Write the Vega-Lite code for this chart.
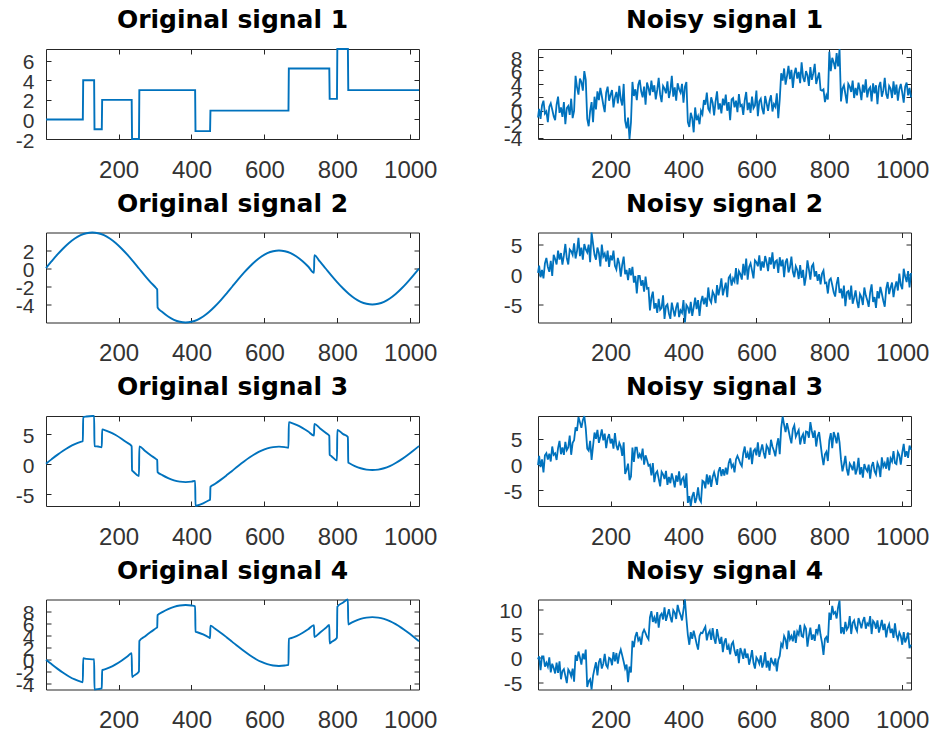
{
"$schema":"https://vega.github.io/schema/vega-lite/v6.json",
"background":"white",
"padding":{"left":5,"top":7,"right":0,"bottom":6},
"datasets":{
"o1":[{"x":1,"y":0},{"x":102,"y":0},{"x":103,"y":4},{"x":133,"y":4},{"x":134,"y":-1},{"x":154,"y":-1},{"x":155,"y":2},{"x":236,"y":2},{"x":237,"y":-2},{"x":256,"y":-2},{"x":257,"y":3},{"x":410,"y":3},{"x":411,"y":-1.2},{"x":451,"y":-1.2},{"x":452,"y":0.9},{"x":666,"y":0.9},{"x":667,"y":5.2},{"x":778,"y":5.2},{"x":779,"y":2.1},{"x":799,"y":2.1},{"x":800,"y":7.2},{"x":829,"y":7.2},{"x":830,"y":3},{"x":1024,"y":3}],
"o2":[{"x":1,"y":0.05},{"x":16,"y":0.78},{"x":32,"y":1.53},{"x":48,"y":2.22},{"x":64,"y":2.83},{"x":80,"y":3.33},{"x":96,"y":3.7},{"x":112,"y":3.92},{"x":128,"y":4.0},{"x":144,"y":3.92},{"x":160,"y":3.7},{"x":176,"y":3.33},{"x":192,"y":2.83},{"x":208,"y":2.22},{"x":224,"y":1.53},{"x":240,"y":0.78},{"x":256,"y":0},{"x":272,"y":-0.78},{"x":288,"y":-1.53},{"x":304,"y":-2.22},{"x":306,"y":-2.32},{"x":307,"y":-4.34},{"x":320,"y":-4.83},{"x":336,"y":-5.33},{"x":352,"y":-5.7},{"x":368,"y":-5.92},{"x":384,"y":-6},{"x":400,"y":-5.92},{"x":416,"y":-5.7},{"x":432,"y":-5.33},{"x":448,"y":-4.83},{"x":464,"y":-4.22},{"x":480,"y":-3.53},{"x":496,"y":-2.78},{"x":512,"y":-2},{"x":528,"y":-1.22},{"x":544,"y":-0.47},{"x":560,"y":0.22},{"x":576,"y":0.83},{"x":592,"y":1.33},{"x":608,"y":1.7},{"x":624,"y":1.92},{"x":640,"y":2},{"x":656,"y":1.92},{"x":672,"y":1.7},{"x":688,"y":1.33},{"x":704,"y":0.83},{"x":720,"y":0.22},{"x":736,"y":-0.47},{"x":737,"y":1.49},{"x":752,"y":0.78},{"x":768,"y":0},{"x":784,"y":-0.78},{"x":800,"y":-1.53},{"x":816,"y":-2.22},{"x":832,"y":-2.83},{"x":848,"y":-3.33},{"x":864,"y":-3.7},{"x":880,"y":-3.92},{"x":896,"y":-4},{"x":912,"y":-3.92},{"x":928,"y":-3.7},{"x":944,"y":-3.33},{"x":960,"y":-2.83},{"x":976,"y":-2.22},{"x":992,"y":-1.53},{"x":1008,"y":-0.78},{"x":1024,"y":0}],
"o3":[{"x":1,"y":0.05},{"x":16,"y":0.78},{"x":32,"y":1.53},{"x":48,"y":2.22},{"x":64,"y":2.83},{"x":80,"y":3.33},{"x":96,"y":3.7},{"x":102,"y":3.8},{"x":103,"y":7.81},{"x":112,"y":7.92},{"x":128,"y":8.0},{"x":133,"y":7.99},{"x":134,"y":2.99},{"x":144,"y":2.92},{"x":154,"y":2.8},{"x":155,"y":5.78},{"x":160,"y":5.7},{"x":176,"y":5.33},{"x":192,"y":4.83},{"x":208,"y":4.22},{"x":224,"y":3.53},{"x":236,"y":2.97},{"x":237,"y":-1.08},{"x":240,"y":-1.22},{"x":256,"y":-2},{"x":257,"y":2.95},{"x":272,"y":2.22},{"x":288,"y":1.47},{"x":304,"y":0.78},{"x":306,"y":0.68},{"x":307,"y":-1.34},{"x":320,"y":-1.83},{"x":336,"y":-2.33},{"x":352,"y":-2.7},{"x":368,"y":-2.92},{"x":384,"y":-3},{"x":400,"y":-2.92},{"x":410,"y":-2.8},{"x":411,"y":-6.98},{"x":416,"y":-6.9},{"x":432,"y":-6.53},{"x":448,"y":-6.03},{"x":451,"y":-5.92},{"x":452,"y":-3.79},{"x":464,"y":-3.32},{"x":480,"y":-2.63},{"x":496,"y":-1.88},{"x":512,"y":-1.1},{"x":528,"y":-0.32},{"x":544,"y":0.43},{"x":560,"y":1.12},{"x":576,"y":1.73},{"x":592,"y":2.23},{"x":608,"y":2.6},{"x":624,"y":2.82},{"x":640,"y":2.9},{"x":656,"y":2.82},{"x":666,"y":2.7},{"x":667,"y":6.98},{"x":672,"y":6.9},{"x":688,"y":6.53},{"x":704,"y":6.03},{"x":720,"y":5.42},{"x":736,"y":4.73},{"x":737,"y":6.69},{"x":752,"y":5.98},{"x":768,"y":5.2},{"x":778,"y":4.71},{"x":779,"y":1.56},{"x":784,"y":1.32},{"x":799,"y":0.61},{"x":800,"y":5.67},{"x":816,"y":4.98},{"x":829,"y":4.48},{"x":830,"y":0.24},{"x":832,"y":0.17},{"x":848,"y":-0.33},{"x":864,"y":-0.7},{"x":880,"y":-0.92},{"x":896,"y":-1},{"x":912,"y":-0.92},{"x":928,"y":-0.7},{"x":944,"y":-0.33},{"x":960,"y":0.17},{"x":976,"y":0.78},{"x":992,"y":1.47},{"x":1008,"y":2.22},{"x":1024,"y":3}],
"o4":[{"x":1,"y":-0.05},{"x":16,"y":-0.78},{"x":32,"y":-1.53},{"x":48,"y":-2.22},{"x":64,"y":-2.83},{"x":80,"y":-3.33},{"x":96,"y":-3.7},{"x":102,"y":-3.8},{"x":103,"y":0.19},{"x":112,"y":0.08},{"x":128,"y":0},{"x":133,"y":0.01},{"x":134,"y":-4.99},{"x":144,"y":-4.92},{"x":154,"y":-4.8},{"x":155,"y":-1.78},{"x":160,"y":-1.7},{"x":176,"y":-1.33},{"x":192,"y":-0.83},{"x":208,"y":-0.22},{"x":224,"y":0.47},{"x":236,"y":1.03},{"x":237,"y":-2.92},{"x":240,"y":-2.78},{"x":256,"y":-2},{"x":257,"y":3.05},{"x":272,"y":3.78},{"x":288,"y":4.53},{"x":304,"y":5.22},{"x":306,"y":5.32},{"x":307,"y":7.34},{"x":320,"y":7.83},{"x":336,"y":8.33},{"x":352,"y":8.7},{"x":368,"y":8.92},{"x":384,"y":9},{"x":400,"y":8.92},{"x":410,"y":8.8},{"x":411,"y":4.58},{"x":416,"y":4.5},{"x":432,"y":4.13},{"x":448,"y":3.63},{"x":451,"y":3.52},{"x":452,"y":5.59},{"x":464,"y":5.12},{"x":480,"y":4.43},{"x":496,"y":3.68},{"x":512,"y":2.9},{"x":528,"y":2.12},{"x":544,"y":1.37},{"x":560,"y":0.68},{"x":576,"y":0.07},{"x":592,"y":-0.43},{"x":608,"y":-0.8},{"x":624,"y":-1.02},{"x":640,"y":-1.1},{"x":656,"y":-1.02},{"x":666,"y":-0.9},{"x":667,"y":3.42},{"x":672,"y":3.5},{"x":688,"y":3.87},{"x":704,"y":4.37},{"x":720,"y":4.98},{"x":736,"y":5.67},{"x":737,"y":3.71},{"x":752,"y":4.42},{"x":768,"y":5.2},{"x":778,"y":5.69},{"x":779,"y":2.64},{"x":784,"y":2.88},{"x":799,"y":3.59},{"x":800,"y":8.73},{"x":816,"y":9.42},{"x":829,"y":9.92},{"x":830,"y":5.76},{"x":832,"y":5.83},{"x":848,"y":6.33},{"x":864,"y":6.7},{"x":880,"y":6.92},{"x":896,"y":7},{"x":912,"y":6.92},{"x":928,"y":6.7},{"x":944,"y":6.33},{"x":960,"y":5.83},{"x":976,"y":5.22},{"x":992,"y":4.53},{"x":1008,"y":3.78},{"x":1024,"y":3}],
"nz":[
{"x":1,"a":-1.0,"b":0.3,"c":-0.1,"d":-0.3},
{"x":4,"a":0.3,"b":1.5,"c":1.7,"d":0.3},
{"x":8,"a":-1.2,"b":-0.4,"c":-0.5,"d":-2.5},
{"x":12,"a":0.8,"b":0.8,"c":1.0,"d":0.3},
{"x":16,"a":1.5,"b":-0.6,"c":-1.5,"d":0.3},
{"x":20,"a":-0.4,"b":1.9,"c":1.8,"d":-1.8},
{"x":24,"a":-0.1,"b":2.8,"c":2.2,"d":-1.0},
{"x":28,"a":-1.7,"b":1.3,"c":1.0,"d":-1.8},
{"x":32,"a":0.6,"b":0.5,"c":2.1,"d":0.1},
{"x":36,"a":1.1,"b":2.3,"c":0.6,"d":-3.0},
{"x":40,"a":0.2,"b":-0.2,"c":3.5,"d":-1.2},
{"x":44,"a":-0.8,"b":3.3,"c":1.9,"d":-2.1},
{"x":48,"a":-1.4,"b":2.6,"c":2.2,"d":-3.2},
{"x":52,"a":0.9,"b":1.7,"c":0.9,"d":-1.0},
{"x":56,"a":2.1,"b":4.0,"c":3.2,"d":-3.1},
{"x":60,"a":-0.3,"b":2.5,"c":4.6,"d":-0.7},
{"x":64,"a":0.5,"b":3.6,"c":2.0,"d":-4.4},
{"x":68,"a":-0.9,"b":1.7,"c":3.3,"d":-2.7},
{"x":72,"a":1.3,"b":3.2,"c":1.9,"d":-2.3},
{"x":76,"a":-2.0,"b":5.1,"c":4.4,"d":-3.7},
{"x":80,"a":0.4,"b":2.7,"c":2.8,"d":-5.2},
{"x":84,"a":0.7,"b":1.7,"c":3.3,"d":-2.4},
{"x":88,"a":-0.6,"b":4.2,"c":5.6,"d":-2.9},
{"x":92,"a":1.8,"b":3.9,"c":1.9,"d":-3.8},
{"x":96,"a":-1.1,"b":3.3,"c":4.2,"d":-2.2},
{"x":100,"a":0.0,"b":5.2,"c":4.7,"d":-4.9},
{"x":104,"a":5.2,"b":2.7,"c":7.2,"d":0.6},
{"x":108,"a":3.5,"b":3.9,"c":6.5,"d":-0.6},
{"x":112,"a":2.4,"b":6.1,"c":9.2,"d":1.3},
{"x":116,"a":4.8,"b":3.1,"c":8.2,"d":0.1},
{"x":120,"a":4.3,"b":4.5,"c":7.1,"d":-1.4},
{"x":124,"a":3.0,"b":2.5,"c":8.6,"d":0.9},
{"x":128,"a":5.9,"b":5.1,"c":9.4,"d":-0.3},
{"x":132,"a":4.6,"b":4.2,"c":7.0,"d":1.7},
{"x":136,"a":-1.2,"b":3.7,"c":3.1,"d":-6.0},
{"x":140,"a":-2.3,"b":5.0,"c":2.7,"d":-4.8},
{"x":144,"a":0.0,"b":2.1,"c":4.6,"d":-4.4},
{"x":148,"a":1.3,"b":7.0,"c":0.9,"d":-6.5},
{"x":152,"a":-1.7,"b":5.1,"c":3.6,"d":-3.7},
{"x":156,"a":2.1,"b":3.3,"c":6.2,"d":-2.2},
{"x":160,"a":0.2,"b":2.5,"c":5.0,"d":-0.9},
{"x":164,"a":2.9,"b":4.5,"c":6.7,"d":-3.6},
{"x":168,"a":1.6,"b":3.6,"c":4.2,"d":-0.9},
{"x":172,"a":3.4,"b":1.4,"c":5.4,"d":-0.1},
{"x":176,"a":2.2,"b":5.0,"c":6.8,"d":-2.2},
{"x":180,"a":0.9,"b":3.0,"c":4.7,"d":-1.2},
{"x":184,"a":-0.2,"b":3.5,"c":6.0,"d":0.8},
{"x":188,"a":2.7,"b":2.2,"c":3.2,"d":-1.5},
{"x":192,"a":3.6,"b":4.0,"c":5.1,"d":-2.0},
{"x":196,"a":1.5,"b":1.3,"c":5.9,"d":0.0},
{"x":200,"a":2.4,"b":3.2,"c":4.1,"d":-0.2},
{"x":204,"a":3.1,"b":2.4,"c":5.0,"d":-1.5},
{"x":208,"a":0.5,"b":4.0,"c":3.1,"d":1.2},
{"x":212,"a":2.0,"b":1.5,"c":6.1,"d":-0.7},
{"x":216,"a":2.8,"b":0.9,"c":3.7,"d":1.0},
{"x":220,"a":1.1,"b":2.8,"c":2.8,"d":-1.2},
{"x":224,"a":3.7,"b":1.8,"c":4.2,"d":0.7},
{"x":228,"a":1.7,"b":-0.3,"c":3.5,"d":1.7},
{"x":232,"a":0.8,"b":1.7,"c":1.7,"d":0.5},
{"x":236,"a":4.0,"b":3.0,"c":4.3,"d":-0.8},
{"x":240,"a":-1.5,"b":0.1,"c":-1.8,"d":-2.2},
{"x":244,"a":-2.6,"b":0.8,"c":-1.0,"d":-1.4},
{"x":248,"a":-1.0,"b":-0.9,"c":0.2,"d":-5.0},
{"x":252,"a":-4.2,"b":1.1,"c":-3.0,"d":-1.8},
{"x":256,"a":-1.7,"b":-0.1,"c":-2.3,"d":-3.0},
{"x":260,"a":4.3,"b":1.3,"c":3.3,"d":3.5},
{"x":264,"a":2.2,"b":-1.3,"c":0.5,"d":2.2},
{"x":268,"a":3.2,"b":-0.2,"c":3.3,"d":4.4},
{"x":272,"a":1.6,"b":-3.1,"c":3.3,"d":5.3},
{"x":276,"a":3.9,"b":-0.2,"c":1.2,"d":3.6},
{"x":280,"a":4.6,"b":-0.2,"c":2.0,"d":4.1},
{"x":284,"a":2.9,"b":-1.8,"c":1.3,"d":2.7},
{"x":288,"a":2.0,"b":-0.9,"c":3.1,"d":5.1},
{"x":292,"a":3.6,"b":-2.8,"c":0.0,"d":5.8},
{"x":296,"a":0.9,"b":-0.3,"c":1.8,"d":5.1},
{"x":300,"a":4.2,"b":-2.3,"c":0.9,"d":4.3},
{"x":304,"a":3.4,"b":-2.2,"c":-0.2,"d":3.8},
{"x":308,"a":2.3,"b":-5.9,"c":0.0,"d":8.3},
{"x":312,"a":4.5,"b":-3.8,"c":-2.1,"d":9.6},
{"x":316,"a":2.8,"b":-2.8,"c":0.3,"d":7.4},
{"x":320,"a":3.8,"b":-5.6,"c":-3.4,"d":8.3},
{"x":324,"a":1.7,"b":-4.7,"c":-1.7,"d":7.1},
{"x":328,"a":3.1,"b":-6.3,"c":-1.3,"d":9.4},
{"x":332,"a":4.9,"b":-4.0,"c":-2.7,"d":6.2},
{"x":336,"a":2.4,"b":-5.8,"c":-4.2,"d":8.7},
{"x":340,"a":1.3,"b":-5.5,"c":-1.4,"d":9.1},
{"x":344,"a":3.7,"b":-3.4,"c":-1.9,"d":7.9},
{"x":348,"a":3.3,"b":-7.3,"c":-2.8,"d":10.4},
{"x":352,"a":2.6,"b":-5.2,"c":-1.2,"d":7.6},
{"x":356,"a":4.4,"b":-4.9,"c":-3.9,"d":8.8},
{"x":360,"a":1.9,"b":-6.4,"c":-2.4,"d":10.0},
{"x":364,"a":3.0,"b":-7.3,"c":-3.6,"d":8.4},
{"x":368,"a":5.2,"b":-4.6,"c":-1.7,"d":7.3},
{"x":372,"a":2.1,"b":-5.8,"c":-2.9,"d":9.8},
{"x":376,"a":3.5,"b":-6.9,"c":-4.4,"d":9.3},
{"x":380,"a":1.5,"b":-5.4,"c":-2.1,"d":8.0},
{"x":384,"a":4.1,"b":-4.6,"c":-3.3,"d":10.9},
{"x":388,"a":3.2,"b":-7.0,"c":-1.3,"d":9.6},
{"x":392,"a":2.7,"b":-5.9,"c":-4.0,"d":8.8},
{"x":396,"a":4.0,"b":-6.3,"c":-2.8,"d":7.7},
{"x":400,"a":1.2,"b":-4.2,"c":-2.4,"d":9.9},
{"x":404,"a":3.6,"b":-7.9,"c":-4.5,"d":12.0},
{"x":408,"a":4.3,"b":-5.0,"c":-1.7,"d":8.1},
{"x":412,"a":-1.7,"b":-5.4,"c":-7.4,"d":4.7},
{"x":416,"a":-2.4,"b":-6.4,"c":-6.1,"d":2.7},
{"x":420,"a":-0.3,"b":-4.5,"c":-8.0,"d":5.3},
{"x":424,"a":-1.1,"b":-6.8,"c":-6.1,"d":3.9},
{"x":428,"a":-3.2,"b":-5.4,"c":-5.3,"d":5.6},
{"x":432,"a":0.5,"b":-3.8,"c":-7.4,"d":4.3},
{"x":436,"a":-1.4,"b":-5.7,"c":-6.4,"d":2.9},
{"x":440,"a":-0.8,"b":-4.2,"c":-4.4,"d":1.7},
{"x":444,"a":-2.0,"b":-6.8,"c":-6.7,"d":4.5},
{"x":448,"a":0.0,"b":-4.5,"c":-7.2,"d":5.2},
{"x":452,"a":-0.5,"b":-3.5,"c":-3.1,"d":5.1},
{"x":456,"a":1.6,"b":-4.9,"c":-3.3,"d":5.8},
{"x":460,"a":0.9,"b":-3.8,"c":-4.6,"d":6.4},
{"x":464,"a":2.7,"b":-5.3,"c":-1.9,"d":3.6},
{"x":468,"a":0.3,"b":-2.1,"c":-3.8,"d":5.0},
{"x":472,"a":-0.1,"b":-4.1,"c":-2.1,"d":5.6},
{"x":476,"a":2.0,"b":-4.6,"c":-4.3,"d":3.7},
{"x":480,"a":1.2,"b":-2.8,"c":-2.4,"d":6.1},
{"x":484,"a":-0.7,"b":-3.3,"c":-1.5,"d":4.0},
{"x":488,"a":1.4,"b":-4.7,"c":-2.6,"d":2.9},
{"x":492,"a":2.9,"b":-1.7,"c":-3.9,"d":5.9},
{"x":496,"a":0.2,"b":-3.4,"c":-1.3,"d":4.2},
{"x":500,"a":1.1,"b":-2.2,"c":-0.5,"d":2.9},
{"x":504,"a":-0.4,"b":-0.6,"c":-2.2,"d":4.3},
{"x":508,"a":1.8,"b":-3.4,"c":-0.9,"d":1.2},
{"x":512,"a":0.8,"b":-2.3,"c":-2.1,"d":3.2},
{"x":516,"a":2.4,"b":-1.3,"c":-0.6,"d":4.0},
{"x":520,"a":0.0,"b":-3.7,"c":-1.9,"d":1.7},
{"x":524,"a":1.3,"b":-0.5,"c":0.3,"d":2.5},
{"x":528,"a":-1.4,"b":-0.1,"c":1.2,"d":0.7},
{"x":532,"a":1.7,"b":-1.8,"c":-0.5,"d":2.8},
{"x":536,"a":1.9,"b":-0.6,"c":0.0,"d":3.3},
{"x":540,"a":0.5,"b":-1.1,"c":-1.5,"d":1.5},
{"x":544,"a":1.5,"b":1.1,"c":1.0,"d":0.4},
{"x":548,"a":-0.2,"b":-1.6,"c":1.7,"d":1.8},
{"x":552,"a":2.5,"b":0.6,"c":1.0,"d":-1.1},
{"x":556,"a":0.7,"b":0.1,"c":0.2,"d":2.0},
{"x":560,"a":0.9,"b":-0.8,"c":-0.3,"d":1.1},
{"x":564,"a":-0.6,"b":1.8,"c":2.2,"d":-0.2},
{"x":568,"a":1.6,"b":-0.1,"c":3.5,"d":1.9},
{"x":572,"a":2.8,"b":2.7,"c":1.3,"d":0.0},
{"x":576,"a":0.1,"b":-0.8,"c":2.2,"d":0.9},
{"x":580,"a":1.2,"b":1.3,"c":1.0,"d":-1.4},
{"x":584,"a":-0.3,"b":1.9,"c":3.3,"d":-0.1},
{"x":588,"a":2.1,"b":0.7,"c":0.1,"d":1.6},
{"x":592,"a":0.4,"b":-0.6,"c":2.6,"d":-1.0},
{"x":596,"a":0.8,"b":2.4,"c":3.0,"d":-2.2},
{"x":600,"a":3.0,"b":2.1,"c":1.8,"d":0.1},
{"x":604,"a":-0.8,"b":1.4,"c":4.3,"d":-0.4},
{"x":608,"a":1.4,"b":3.2,"c":1.5,"d":-1.2},
{"x":612,"a":1.8,"b":0.7,"c":2.7,"d":0.5},
{"x":616,"a":0.3,"b":2.2,"c":3.9,"d":-2.0},
{"x":620,"a":-0.5,"b":1.2,"c":2.3,"d":-1.0},
{"x":624,"a":2.2,"b":3.1,"c":1.2,"d":1.2},
{"x":628,"a":1.1,"b":2.1,"c":3.7,"d":-2.0},
{"x":632,"a":0.0,"b":0.6,"c":3.2,"d":-0.6},
{"x":636,"a":1.5,"b":2.9,"c":1.9,"d":-2.6},
{"x":640,"a":2.3,"b":1.7,"c":4.8,"d":0.0},
{"x":644,"a":-0.1,"b":3.7,"c":3.5,"d":-0.9},
{"x":648,"a":1.0,"b":1.0,"c":2.7,"d":-1.4},
{"x":652,"a":0.6,"b":2.2,"c":1.6,"d":-0.1},
{"x":656,"a":2.6,"b":2.4,"c":3.8,"d":-2.8},
{"x":660,"a":-1.1,"b":0.3,"c":5.1,"d":-0.4},
{"x":664,"a":1.7,"b":2.9,"c":2.0,"d":0.4},
{"x":668,"a":5.6,"b":1.4,"c":7.1,"d":2.9},
{"x":672,"a":4.5,"b":2.5,"c":9.3,"d":2.3},
{"x":676,"a":6.3,"b":-0.4,"c":7.7,"d":4.5},
{"x":680,"a":3.9,"b":2.1,"c":6.3,"d":3.8},
{"x":684,"a":5.2,"b":2.7,"c":8.0,"d":1.8},
{"x":688,"a":6.7,"b":0.4,"c":6.7,"d":5.6},
{"x":692,"a":4.7,"b":1.2,"c":5.3,"d":3.8},
{"x":696,"a":6.1,"b":3.0,"c":4.1,"d":4.5},
{"x":700,"a":3.4,"b":0.5,"c":6.9,"d":3.4},
{"x":704,"a":5.5,"b":-0.4,"c":7.6,"d":5.6},
{"x":708,"a":6.4,"b":1.4,"c":5.4,"d":3.1},
{"x":712,"a":4.8,"b":0.8,"c":6.1,"d":5.4},
{"x":716,"a":5.8,"b":-0.7,"c":6.7,"d":4.8},
{"x":720,"a":4.1,"b":1.6,"c":3.9,"d":6.8},
{"x":724,"a":7.2,"b":-0.5,"c":5.3,"d":4.5},
{"x":728,"a":5.0,"b":0.8,"c":5.9,"d":4.3},
{"x":732,"a":4.3,"b":-1.8,"c":4.0,"d":6.6},
{"x":736,"a":5.9,"b":-0.3,"c":6.4,"d":6.0},
{"x":740,"a":5.3,"b":2.4,"c":6.3,"d":2.3},
{"x":744,"a":3.7,"b":0.9,"c":5.2,"d":4.5},
{"x":748,"a":6.5,"b":-0.8,"c":8.2,"d":6.2},
{"x":752,"a":4.6,"b":1.4,"c":6.5,"d":3.7},
{"x":756,"a":5.6,"b":1.8,"c":5.2,"d":4.8},
{"x":760,"a":7.0,"b":-0.3,"c":6.6,"d":3.5},
{"x":764,"a":4.0,"b":0.6,"c":3.5,"d":5.9},
{"x":768,"a":4.9,"b":-1.0,"c":5.5,"d":5.1},
{"x":772,"a":5.7,"b":0.1,"c":6.3,"d":6.9},
{"x":776,"a":3.1,"b":-1.6,"c":4.0,"d":4.7},
{"x":780,"a":3.0,"b":0.2,"c":1.7,"d":3.1},
{"x":784,"a":3.2,"b":0.7,"c":-0.1,"d":0.6},
{"x":788,"a":1.3,"b":-1.4,"c":2.0,"d":3.9},
{"x":792,"a":2.3,"b":-1.3,"c":2.5,"d":4.3},
{"x":796,"a":1.7,"b":-3.1,"c":0.7,"d":3.1},
{"x":800,"a":8.8,"b":-0.9,"c":4.7,"d":9.3},
{"x":804,"a":5.9,"b":-0.6,"c":6.1,"d":7.8},
{"x":808,"a":7.9,"b":-1.7,"c":3.2,"d":10.7},
{"x":812,"a":7.2,"b":-2.9,"c":6.3,"d":9.1},
{"x":816,"a":6.2,"b":-3.6,"c":5.4,"d":9.4},
{"x":820,"a":8.6,"b":-1.5,"c":4.1,"d":8.1},
{"x":824,"a":6.6,"b":-0.4,"c":6.2,"d":10.4},
{"x":828,"a":9.2,"b":-3.0,"c":4.3,"d":11.8},
{"x":832,"a":1.4,"b":-2.3,"c":1.0,"d":5.0},
{"x":836,"a":3.3,"b":-3.9,"c":-1.3,"d":6.3},
{"x":840,"a":3.8,"b":-1.8,"c":0.0,"d":4.9},
{"x":844,"a":2.5,"b":-5.2,"c":1.7,"d":7.4},
{"x":848,"a":1.1,"b":-2.9,"c":-0.9,"d":5.8},
{"x":852,"a":4.0,"b":-2.7,"c":-2.1,"d":6.3},
{"x":856,"a":3.6,"b":-4.1,"c":0.2,"d":8.6},
{"x":860,"a":2.8,"b":-1.8,"c":-0.3,"d":4.9},
{"x":864,"a":4.5,"b":-4.8,"c":-1.1,"d":7.2},
{"x":868,"a":1.9,"b":-3.8,"c":0.6,"d":7.7},
{"x":872,"a":3.4,"b":-2.6,"c":-1.9,"d":6.2},
{"x":876,"a":2.3,"b":-4.4,"c":-0.9,"d":5.5},
{"x":880,"a":4.2,"b":-5.5,"c":1.3,"d":8.2},
{"x":884,"a":3.1,"b":-3.2,"c":-1.9,"d":7.2},
{"x":888,"a":1.6,"b":-3.7,"c":-0.5,"d":6.1},
{"x":892,"a":3.9,"b":-5.0,"c":-2.5,"d":7.6},
{"x":896,"a":2.7,"b":-2.1,"c":0.1,"d":8.4},
{"x":900,"a":4.7,"b":-3.4,"c":-0.8,"d":6.0},
{"x":904,"a":2.0,"b":-4.2,"c":-1.3,"d":7.1},
{"x":908,"a":3.2,"b":-5.3,"c":0.0,"d":6.7},
{"x":912,"a":3.5,"b":-2.9,"c":-2.7,"d":8.6},
{"x":916,"a":1.4,"b":-1.6,"c":-0.3,"d":4.9},
{"x":920,"a":4.1,"b":-4.5,"c":0.5,"d":7.6},
{"x":924,"a":2.6,"b":-3.7,"c":-1.3,"d":7.2},
{"x":928,"a":3.8,"b":-5.5,"c":-1.9,"d":6.0},
{"x":932,"a":1.0,"b":-2.7,"c":0.3,"d":7.7},
{"x":936,"a":3.6,"b":-3.9,"c":-0.4,"d":5.2},
{"x":940,"a":4.3,"b":-2.0,"c":-2.4,"d":6.4},
{"x":944,"a":2.1,"b":-3.1,"c":1.4,"d":7.8},
{"x":948,"a":3.0,"b":-4.3,"c":-0.4,"d":5.7},
{"x":952,"a":4.9,"b":-5.3,"c":0.3,"d":7.0},
{"x":956,"a":2.5,"b":-2.3,"c":-0.8,"d":4.2},
{"x":960,"a":1.8,"b":-1.2,"c":1.4,"d":6.1},
{"x":964,"a":3.7,"b":-3.2,"c":-1.1,"d":6.9},
{"x":968,"a":3.3,"b":-2.1,"c":1.2,"d":5.1},
{"x":972,"a":1.9,"b":-1.3,"c":0.6,"d":6.0},
{"x":976,"a":4.4,"b":-3.7,"c":2.6,"d":4.1},
{"x":980,"a":2.4,"b":-2.1,"c":0.3,"d":7.1},
{"x":984,"a":3.9,"b":-1.1,"c":0.1,"d":4.7},
{"x":988,"a":1.5,"b":-2.6,"c":2.4,"d":3.8},
{"x":992,"a":3.2,"b":0.2,"c":1.8,"d":5.2},
{"x":996,"a":4.0,"b":-1.7,"c":0.0,"d":4.5},
{"x":1000,"a":2.7,"b":-2.4,"c":2.3,"d":2.7},
{"x":1004,"a":1.2,"b":1.0,"c":4.0,"d":5.3},
{"x":1008,"a":3.6,"b":-0.3,"c":1.5,"d":3.2},
{"x":1012,"a":4.2,"b":-1.2,"c":2.6,"d":4.0},
{"x":1016,"a":2.3,"b":0.6,"c":1.3,"d":5.2},
{"x":1020,"a":3.4,"b":-2.1,"c":3.7,"d":2.0},
{"x":1024,"a":2.0,"b":0.3,"c":2.9,"d":2.7}
]},
"columns":2,
"spacing":{"row":93.5,"column":119},
"bounds":"flush",
"concat":[
{"title":"Original signal 1","width":373,"height":90,"data":{"name":"o1"},"layer":[
 {"mark":{"type":"line","strokeWidth":1.9,"color":"#0072BD"},"encoding":{"x":{"field":"x","type":"quantitative","scale":{"domain":[1,1024],"nice":false,"zero":false},"axis":{"values":[200,400,600,800,1000],"title":null}},"y":{"field":"y","type":"quantitative","scale":{"domain":[-2,7.2],"nice":false,"zero":false},"axis":{"values":[-2,0,2,4,6],"title":null}}}},
 {"mark":{"type":"line","strokeOpacity":0},"encoding":{"x":{"field":"x","type":"quantitative","scale":{"domain":[1,1024],"nice":false,"zero":false},"axis":{"orient":"top","labels":false,"values":[200,400,600,800,1000],"title":null}},"y":{"field":"y","type":"quantitative","scale":{"domain":[-2,7.2],"nice":false,"zero":false},"axis":{"orient":"right","labels":false,"values":[-2,0,2,4,6],"title":null}}}}],
 "resolve":{"axis":{"x":"independent","y":"independent"}}},
{"title":"Noisy signal 1","width":373,"height":90,"data":{"name":"nz"},"layer":[
 {"mark":{"type":"line","strokeWidth":1.8,"color":"#0072BD"},"encoding":{"x":{"field":"x","type":"quantitative","scale":{"domain":[1,1024],"nice":false,"zero":false},"axis":{"values":[200,400,600,800,1000],"title":null}},"y":{"field":"a","type":"quantitative","scale":{"domain":[-4.2,9.2],"nice":false,"zero":false},"axis":{"values":[-4,-2,0,2,4,6,8],"title":null,"labelPadding":21}}}},
 {"mark":{"type":"line","strokeOpacity":0},"encoding":{"x":{"field":"x","type":"quantitative","scale":{"domain":[1,1024],"nice":false,"zero":false},"axis":{"orient":"top","labels":false,"values":[200,400,600,800,1000],"title":null}},"y":{"field":"a","type":"quantitative","scale":{"domain":[-4.2,9.2],"nice":false,"zero":false},"axis":{"orient":"right","labels":false,"values":[-4,-2,0,2,4,6,8],"title":null}}}}],
 "resolve":{"axis":{"x":"independent","y":"independent"}}},
{"title":"Original signal 2","width":373,"height":90,"data":{"name":"o2"},"layer":[
 {"mark":{"type":"line","strokeWidth":1.9,"color":"#0072BD","interpolate":"monotone"},"encoding":{"x":{"field":"x","type":"quantitative","scale":{"domain":[1,1024],"nice":false,"zero":false},"axis":{"values":[200,400,600,800,1000],"title":null}},"y":{"field":"y","type":"quantitative","scale":{"domain":[-6,4],"nice":false,"zero":false},"axis":{"values":[-4,-2,0,2],"title":null}}}},
 {"mark":{"type":"line","strokeOpacity":0},"encoding":{"x":{"field":"x","type":"quantitative","scale":{"domain":[1,1024],"nice":false,"zero":false},"axis":{"orient":"top","labels":false,"values":[200,400,600,800,1000],"title":null}},"y":{"field":"y","type":"quantitative","scale":{"domain":[-6,4],"nice":false,"zero":false},"axis":{"orient":"right","labels":false,"values":[-4,-2,0,2],"title":null}}}}],
 "resolve":{"axis":{"x":"independent","y":"independent"}}},
{"title":"Noisy signal 2","width":373,"height":90,"data":{"name":"nz"},"layer":[
 {"mark":{"type":"line","strokeWidth":1.8,"color":"#0072BD"},"encoding":{"x":{"field":"x","type":"quantitative","scale":{"domain":[1,1024],"nice":false,"zero":false},"axis":{"values":[200,400,600,800,1000],"title":null}},"y":{"field":"b","type":"quantitative","scale":{"domain":[-7.9,7.0],"nice":false,"zero":false},"axis":{"values":[-5,0,5],"title":null,"labelPadding":21}}}},
 {"mark":{"type":"line","strokeOpacity":0},"encoding":{"x":{"field":"x","type":"quantitative","scale":{"domain":[1,1024],"nice":false,"zero":false},"axis":{"orient":"top","labels":false,"values":[200,400,600,800,1000],"title":null}},"y":{"field":"b","type":"quantitative","scale":{"domain":[-7.9,7.0],"nice":false,"zero":false},"axis":{"orient":"right","labels":false,"values":[-5,0,5],"title":null}}}}],
 "resolve":{"axis":{"x":"independent","y":"independent"}}},
{"title":"Original signal 3","width":373,"height":90,"data":{"name":"o3"},"layer":[
 {"mark":{"type":"line","strokeWidth":1.9,"color":"#0072BD","interpolate":"monotone"},"encoding":{"x":{"field":"x","type":"quantitative","scale":{"domain":[1,1024],"nice":false,"zero":false},"axis":{"values":[200,400,600,800,1000],"title":null}},"y":{"field":"y","type":"quantitative","scale":{"domain":[-6.98,8],"nice":false,"zero":false},"axis":{"values":[-5,0,5],"title":null}}}},
 {"mark":{"type":"line","strokeOpacity":0},"encoding":{"x":{"field":"x","type":"quantitative","scale":{"domain":[1,1024],"nice":false,"zero":false},"axis":{"orient":"top","labels":false,"values":[200,400,600,800,1000],"title":null}},"y":{"field":"y","type":"quantitative","scale":{"domain":[-6.98,8],"nice":false,"zero":false},"axis":{"orient":"right","labels":false,"values":[-5,0,5],"title":null}}}}],
 "resolve":{"axis":{"x":"independent","y":"independent"}}},
{"title":"Noisy signal 3","width":373,"height":90,"data":{"name":"nz"},"layer":[
 {"mark":{"type":"line","strokeWidth":1.8,"color":"#0072BD"},"encoding":{"x":{"field":"x","type":"quantitative","scale":{"domain":[1,1024],"nice":false,"zero":false},"axis":{"values":[200,400,600,800,1000],"title":null}},"y":{"field":"c","type":"quantitative","scale":{"domain":[-8,9.4],"nice":false,"zero":false},"axis":{"values":[-5,0,5],"title":null,"labelPadding":21}}}},
 {"mark":{"type":"line","strokeOpacity":0},"encoding":{"x":{"field":"x","type":"quantitative","scale":{"domain":[1,1024],"nice":false,"zero":false},"axis":{"orient":"top","labels":false,"values":[200,400,600,800,1000],"title":null}},"y":{"field":"c","type":"quantitative","scale":{"domain":[-8,9.4],"nice":false,"zero":false},"axis":{"orient":"right","labels":false,"values":[-5,0,5],"title":null}}}}],
 "resolve":{"axis":{"x":"independent","y":"independent"}}},
{"title":"Original signal 4","width":373,"height":90,"data":{"name":"o4"},"layer":[
 {"mark":{"type":"line","strokeWidth":1.9,"color":"#0072BD","interpolate":"monotone"},"encoding":{"x":{"field":"x","type":"quantitative","scale":{"domain":[1,1024],"nice":false,"zero":false},"axis":{"values":[200,400,600,800,1000],"title":null}},"y":{"field":"y","type":"quantitative","scale":{"domain":[-4.99,9.92],"nice":false,"zero":false},"axis":{"values":[-4,-2,0,2,4,6,8],"title":null}}}},
 {"mark":{"type":"line","strokeOpacity":0},"encoding":{"x":{"field":"x","type":"quantitative","scale":{"domain":[1,1024],"nice":false,"zero":false},"axis":{"orient":"top","labels":false,"values":[200,400,600,800,1000],"title":null}},"y":{"field":"y","type":"quantitative","scale":{"domain":[-4.99,9.92],"nice":false,"zero":false},"axis":{"orient":"right","labels":false,"values":[-4,-2,0,2,4,6,8],"title":null}}}}],
 "resolve":{"axis":{"x":"independent","y":"independent"}}},
{"title":"Noisy signal 4","width":373,"height":90,"data":{"name":"nz"},"layer":[
 {"mark":{"type":"line","strokeWidth":1.8,"color":"#0072BD"},"encoding":{"x":{"field":"x","type":"quantitative","scale":{"domain":[1,1024],"nice":false,"zero":false},"axis":{"values":[200,400,600,800,1000],"title":null}},"y":{"field":"d","type":"quantitative","scale":{"domain":[-6.5,12],"nice":false,"zero":false},"axis":{"values":[-5,0,5,10],"title":null,"labelPadding":21}}}},
 {"mark":{"type":"line","strokeOpacity":0},"encoding":{"x":{"field":"x","type":"quantitative","scale":{"domain":[1,1024],"nice":false,"zero":false},"axis":{"orient":"top","labels":false,"values":[200,400,600,800,1000],"title":null}},"y":{"field":"d","type":"quantitative","scale":{"domain":[-6.5,12],"nice":false,"zero":false},"axis":{"orient":"right","labels":false,"values":[-5,0,5,10],"title":null}}}}],
 "resolve":{"axis":{"x":"independent","y":"independent"}}}
],
"config":{
 "view":{"stroke":"#262626","strokeWidth":1},
 "axis":{"domain":false,"grid":false,"ticks":true,"tickColor":"#262626","tickSize":-5,"tickWidth":1,"labelFont":"Liberation Sans","labelColor":"#333333","labelOverlap":false,"labelFlush":false,"labelExpr":"'' + datum.value"},
 "axisX":{"labelFontSize":24,"labelPadding":24},
 "axisY":{"labelFontSize":21,"labelPadding":17,"labelOffset":2,"minExtent":40,"maxExtent":40},
 "title":{"font":"DejaVu Sans","fontSize":25,"fontWeight":"bold","color":"#000000","anchor":"middle","offset":12}
}
}
